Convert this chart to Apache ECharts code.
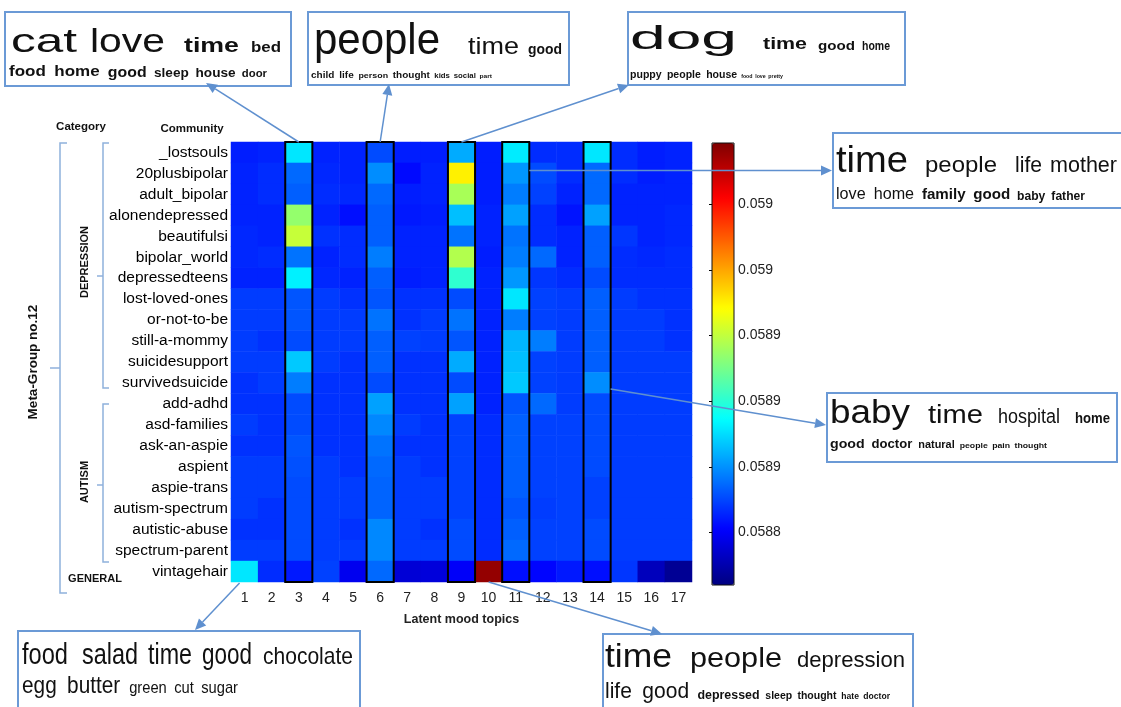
<!DOCTYPE html>
<html><head><meta charset="utf-8">
<script src="https://cdn.jsdelivr.net/npm/echarts@6/dist/echarts.min.js"></script>
<style>html,body{margin:0;padding:0;background:#fff}#c{width:1121px;height:707px}</style>
</head><body><div id="c"></div>
<script>
// ---------------- DATA ----------------
const communities = ['_lostsouls','20plusbipolar','adult_bipolar','alonendepressed','beautifulsi','bipolar_world','depressedteens','lost-loved-ones','or-not-to-be','still-a-mommy','suicidesupport','survivedsuicide','add-adhd','asd-families','ask-an-aspie','aspient','aspie-trans','autism-spectrum','autistic-abuse','spectrum-parent','vintagehair'];
const topics = ['1','2','3','4','5','6','7','8','9','10','11','12','13','14','15','16','17'];
const highlightedTopics = ['3','6','9','11','14'];
const colorMin = 0.058816, colorMax = 0.059018;
const colorbarTicks = [0.05884, 0.05887, 0.0589, 0.05893, 0.05896, 0.05899];
// rows = communities (top to bottom), columns = topics 1..17
const moodScores = [
 [0.058847,0.058848,0.058887,0.058848,0.058848,0.058856,0.058847,0.058847,0.058875,0.058847,0.058888,0.058850,0.058850,0.058887,0.058850,0.058847,0.058848],
 [0.058848,0.058850,0.058862,0.058849,0.058848,0.058869,0.058843,0.058848,0.058945,0.058847,0.058871,0.058856,0.058850,0.058862,0.058850,0.058847,0.058848],
 [0.058848,0.058850,0.058860,0.058850,0.058849,0.058862,0.058847,0.058848,0.058925,0.058847,0.058866,0.058854,0.058848,0.058862,0.058848,0.058848,0.058848],
 [0.058848,0.058848,0.058921,0.058848,0.058844,0.058860,0.058846,0.058847,0.058879,0.058848,0.058873,0.058850,0.058845,0.058873,0.058848,0.058848,0.058849],
 [0.058849,0.058848,0.058931,0.058851,0.058850,0.058860,0.058848,0.058848,0.058864,0.058848,0.058864,0.058850,0.058848,0.058860,0.058852,0.058848,0.058849],
 [0.058849,0.058850,0.058864,0.058848,0.058850,0.058866,0.058848,0.058848,0.058927,0.058847,0.058866,0.058862,0.058848,0.058860,0.058850,0.058849,0.058850],
 [0.058848,0.058848,0.058889,0.058849,0.058848,0.058860,0.058847,0.058848,0.058901,0.058848,0.058871,0.058852,0.058850,0.058856,0.058850,0.058850,0.058850],
 [0.058853,0.058853,0.058858,0.058853,0.058851,0.058858,0.058851,0.058851,0.058856,0.058848,0.058887,0.058854,0.058853,0.058860,0.058853,0.058851,0.058851],
 [0.058853,0.058853,0.058858,0.058853,0.058853,0.058864,0.058851,0.058853,0.058864,0.058848,0.058866,0.058854,0.058853,0.058860,0.058853,0.058853,0.058851],
 [0.058853,0.058851,0.058856,0.058853,0.058853,0.058860,0.058854,0.058853,0.058858,0.058848,0.058877,0.058866,0.058853,0.058860,0.058853,0.058853,0.058851],
 [0.058853,0.058853,0.058881,0.058853,0.058851,0.058860,0.058851,0.058851,0.058875,0.058848,0.058879,0.058854,0.058853,0.058860,0.058853,0.058853,0.058853],
 [0.058851,0.058853,0.058866,0.058851,0.058851,0.058856,0.058851,0.058851,0.058856,0.058848,0.058881,0.058854,0.058853,0.058869,0.058853,0.058853,0.058853],
 [0.058851,0.058851,0.058856,0.058851,0.058851,0.058873,0.058851,0.058851,0.058873,0.058848,0.058858,0.058862,0.058853,0.058856,0.058853,0.058853,0.058853],
 [0.058853,0.058851,0.058856,0.058851,0.058851,0.058868,0.058853,0.058851,0.058854,0.058850,0.058860,0.058854,0.058854,0.058856,0.058853,0.058853,0.058853],
 [0.058851,0.058851,0.058858,0.058851,0.058851,0.058864,0.058851,0.058851,0.058854,0.058850,0.058860,0.058854,0.058854,0.058856,0.058853,0.058853,0.058853],
 [0.058853,0.058853,0.058857,0.058853,0.058851,0.058862,0.058853,0.058851,0.058854,0.058850,0.058860,0.058854,0.058854,0.058856,0.058853,0.058853,0.058853],
 [0.058853,0.058853,0.058856,0.058853,0.058853,0.058861,0.058853,0.058853,0.058854,0.058850,0.058860,0.058854,0.058854,0.058854,0.058853,0.058853,0.058853],
 [0.058853,0.058851,0.058856,0.058853,0.058853,0.058861,0.058853,0.058853,0.058854,0.058850,0.058858,0.058853,0.058854,0.058854,0.058853,0.058853,0.058853],
 [0.058851,0.058851,0.058856,0.058853,0.058851,0.058868,0.058853,0.058851,0.058856,0.058850,0.058860,0.058854,0.058854,0.058856,0.058853,0.058853,0.058853],
 [0.058853,0.058853,0.058856,0.058853,0.058853,0.058868,0.058853,0.058853,0.058856,0.058850,0.058862,0.058854,0.058854,0.058856,0.058853,0.058853,0.058853],
 [0.058887,0.058850,0.058846,0.058854,0.058838,0.058862,0.058833,0.058834,0.058840,0.059014,0.058844,0.058842,0.058846,0.058844,0.058852,0.058828,0.058820]
];
// top words of selected latent topics (word clouds)
const topic3Words  = [['cat','love','time','bed'],['food','home','good','sleep','house','door']];
const topic6Words  = [['people','time','good'],['child','life','person','thought','kids','social','part']];
const topic9Words  = [['dog','time','good','home'],['puppy','people','house','food','love','pretty']];
const topic11Words = [['time','people','life','mother'],['love','home','family','good','baby','father']];
const topic14Words = [['baby','time','hospital','home'],['good','doctor','natural','people','pain','thought']];
const topic1Words  = [['food','salad','time','good','chocolate'],['egg','butter','green','cut','sugar']];
const topic10Words = [['time','people','depression'],['life','good','depressed','sleep','thought','hate','doctor']];

// ---------------- CHART ----------------
const FONT = '"Liberation Sans", Arial, Helvetica, sans-serif';
const jet = ['#000080','#0000ff','#0080ff','#00ffff','#80ff80','#ffff00','#ff8000','#ff0000','#800000'];
const heatData = [];
moodScores.forEach((row, r) => row.forEach((v, c) => heatData.push([c, r, v])));

const chart = echarts.init(document.getElementById('c'), null, {renderer: 'canvas'});
chart.setOption({
  animation: false,
  backgroundColor: '#fff',
  grid: [
    {left: 231, top: 142, width: 461, height: 440},
    {left: 712, top: 143, width: 22, height: 442}
  ],
  xAxis: [
    {type: 'category', data: topics, gridIndex: 0, position: 'bottom',
     axisLine: {show: false}, splitLine: {show: false},
     axisTick: {show: true, inside: true, length: 3, alignWithLabel: true, lineStyle: {color: '#000'}},
     axisLabel: {fontSize: 14, fontFamily: FONT, color: '#222', margin: 9},
     name: 'Latent mood topics', nameLocation: 'middle', nameGap: 31,
     nameTextStyle: {fontSize: 12.5, fontWeight: 'bold', fontFamily: FONT, color: '#222'}},
    {type: 'value', gridIndex: 1, show: false, min: 0, max: 1}
  ],
  yAxis: [
    {type: 'category', data: communities, gridIndex: 0, inverse: true,
     axisLine: {show: false}, axisTick: {show: false}, splitLine: {show: false},
     axisLabel: {fontSize: 15.5, fontFamily: FONT, color: '#000', margin: 3}},
    {type: 'value', gridIndex: 1, min: colorMin, max: colorMax, position: 'right',
     axisLine: {show: false}, splitLine: {show: false},
     axisTick: {show: true, inside: true, length: 3, lineStyle: {color: '#000'}, customValues: colorbarTicks},
     axisLabel: {fontSize: 14, fontFamily: FONT, color: '#222', margin: 4, customValues: colorbarTicks,
       formatter: v => String(Number(v.toPrecision(3)))}},
    {type: 'value', gridIndex: 1, min: colorMin, max: colorMax, position: 'left',
     axisLine: {show: false}, splitLine: {show: false}, axisLabel: {show: false},
     axisTick: {show: true, inside: true, length: 3, lineStyle: {color: '#000'}, customValues: colorbarTicks}}
  ],
  visualMap: {
    type: 'continuous', min: colorMin, max: colorMax, seriesIndex: 0, calculable: false,
    orient: 'vertical', left: 712, top: 143, itemWidth: 22, itemHeight: 442, padding: 0,
    inRange: {color: jet}, hoverLink: false
  },
  series: [
    {type: 'heatmap', xAxisIndex: 0, yAxisIndex: 0, data: heatData, silent: true,
     itemStyle: {borderWidth: 0}, emphasis: {disabled: true}, progressive: 0},
    {type: 'custom', xAxisIndex: 0, yAxisIndex: 0, silent: true, z: 5,
     data: highlightedTopics.map(t => [t, communities[0]]),
     encode: {x: 0, y: 1},
     renderItem: function (params, api) {
       const cs = params.coordSys;
       const c = api.coord([api.value(0), 0]);
       const w = api.size([1, 1])[0];
       return {type: 'rect', shape: {x: c[0] - w / 2, y: cs.y, width: w, height: cs.height},
               style: {fill: 'none', stroke: '#000', lineWidth: 2}};
     }}
  ]
});

// ---------------- ANNOTATIONS ----------------
const boxColor = '#6b9ad6', arrowColor = '#5f90cf', bracketColor = '#8fb1dc';
const g = [];
const mctx = document.createElement('canvas').getContext('2d');
function fontStr(size, bold) { return (bold ? 'bold ' : '') + size + 'px ' + FONT; }
function measure(t, size, bold) { mctx.font = fontStr(size, bold); return mctx.measureText(t).width; }
function label(text, x, y, size, opts) {
  opts = opts || {};
  g.push({type: 'text', x: x, y: y, rotation: opts.rot || 0, z: 20,
    style: {text: text, font: fontStr(size, opts.bold), fill: opts.color || '#111',
            align: opts.align || 'center', verticalAlign: 'middle',
            textAlign: opts.align || 'center', textVerticalAlign: 'middle'}});
}
function poly(points, color, w) {
  g.push({type: 'polyline', z: 20, shape: {points: points}, style: {stroke: color, lineWidth: w || 1.5, fill: 'none'}});
}
function arrow(p1, p2) {
  const dx = p2[0] - p1[0], dy = p2[1] - p1[1], L = Math.hypot(dx, dy);
  const ux = dx / L, uy = dy / L, hl = 11, hw = 5;
  const bx = p2[0] - ux * hl, by = p2[1] - uy * hl;
  g.push({type: 'line', z: 20, shape: {x1: p1[0], y1: p1[1], x2: bx, y2: by}, style: {stroke: arrowColor, lineWidth: 1.5}});
  g.push({type: 'polygon', z: 20, shape: {points: [[p2[0], p2[1]], [bx - uy * hw, by + ux * hw], [bx + uy * hw, by - ux * hw]]}, style: {fill: arrowColor}});
}
function word(t, x, y, size, bold, sx) {
  g.push({type: 'text', x: x, y: y - 0.31 * size, scaleX: sx, z: 21,
    style: {text: t, font: fontStr(size, bold), fill: '#111', align: 'left', verticalAlign: 'middle',
            textAlign: 'left', textVerticalAlign: 'middle'}});
}
function cloud(words, box, lines) {
  g.push({type: 'rect', z: 15, shape: {x: box[0], y: box[1], width: box[2], height: box[3]},
          style: {fill: '#fff', stroke: boxColor, lineWidth: 2}});
  lines.forEach((ln, li) => {
    const ws = words[li];
    if (ln.x) {            // each word fitted to its own span
      ws.forEach((wd, i) => {
        const nat = measure(wd, ln.size[i], ln.bold[i]);
        word(wd, ln.x[i][0], ln.y, ln.size[i], ln.bold[i], (ln.x[i][1] - ln.x[i][0]) / nat);
      });
    } else {               // flowing line fitted to [x0, x1]
      const nats = ws.map((wd, i) => measure(wd, ln.size[i], ln.bold[i]));
      const gaps = ws.map((wd, i) => i ? 0.5 * (ln.size[i] + ln.size[i - 1]) / 2 : 0);
      const total = nats.reduce((a, b) => a + b, 0) + gaps.reduce((a, b) => a + b, 0);
      const s = (ln.x1 - ln.x0) / total;
      let cx = ln.x0;
      ws.forEach((wd, i) => {
        cx += gaps[i] * s;
        word(wd, cx, ln.y, ln.size[i], ln.bold[i], s);
        cx += nats[i] * s;
      });
    }
  });
}

// headers
label('Category', 81, 127, 11.5, {bold: true});
label('Community', 192, 129, 11.5, {bold: true});
label('Meta-Group no.12', 33, 362, 13.5, {bold: true, rot: Math.PI / 2});
label('DEPRESSION', 85, 262, 11, {bold: true, rot: Math.PI / 2});
label('AUTISM', 85, 482, 11, {bold: true, rot: Math.PI / 2});
label('GENERAL', 95, 579, 11, {bold: true});
// brackets
poly([[67, 143], [60, 143], [60, 593], [67, 593]], bracketColor);
poly([[50, 368], [60, 368]], bracketColor);
poly([[109, 143], [103, 143], [103, 388], [109, 388]], bracketColor);
poly([[97, 276], [103, 276]], bracketColor);
poly([[109, 404], [103, 404], [103, 562], [109, 562]], bracketColor);
poly([[97, 485], [103, 485]], bracketColor);
// colorbar frame
g.push({type: 'rect', z: 20, shape: {x: 712, y: 143, width: 22, height: 442}, style: {fill: 'none', stroke: '#111', lineWidth: 1}});

// word clouds
cloud(topic3Words, [5, 12, 286, 74], [
  {y: 53, x: [[11, 77], [90, 165], [184, 239], [251, 281]], size: [34, 34, 21, 15], bold: [0, 0, 1, 1]},
  {y: 77, x0: 9, x1: 267, size: [15, 15, 14, 12, 12, 10], bold: [1, 1, 1, 1, 1, 1]}]);
cloud(topic6Words, [308, 12, 261, 73], [
  {y: 55, x: [[314, 440], [468, 519], [528, 562]], size: [44, 24, 15], bold: [0, 0, 1]},
  {y: 78, x0: 311, x1: 492, size: [9, 9, 8, 9, 7, 7, 6], bold: [1, 1, 1, 1, 1, 1, 1]}]);
cloud(topic9Words, [628, 12, 277, 73], [
  {y: 50, x: [[630, 737], [763, 807], [818, 855], [862, 890]], size: [34, 16, 12, 12], bold: [0, 1, 1, 1]},
  {y: 78, x0: 630, x1: 783, size: [10, 10, 10, 5, 5, 5], bold: [1, 1, 1, 1, 1, 1]}]);
cloud(topic11Words, [833, 133, 290, 75], [
  {y: 173, x: [[836, 908], [925, 997], [1015, 1042], [1050, 1117]], size: [36, 22, 22, 22], bold: [0, 0, 0, 0]},
  {y: 200, x0: 836, x1: 1085, size: [16, 16, 15, 15, 12, 12], bold: [0, 0, 1, 1, 1, 1]}]);
cloud(topic14Words, [827, 393, 290, 69], [
  {y: 424, x: [[830, 910], [928, 983], [998, 1060], [1075, 1110]], size: [34, 26, 20, 15], bold: [0, 0, 0, 1]},
  {y: 448, x0: 830, x1: 1047, size: [13, 12, 10, 8, 8, 8], bold: [1, 1, 1, 1, 1, 1]}]);
cloud(topic1Words, [18, 631, 342, 90], [
  {y: 665, x: [[22, 68], [82, 138], [148, 192], [202, 252], [263, 353]], size: [30, 30, 30, 30, 24], bold: [0, 0, 0, 0, 0]},
  {y: 694, x0: 22, x1: 238, size: [24, 24, 17, 17, 17], bold: [0, 0, 0, 0, 0]}]);
cloud(topic10Words, [603, 634, 310, 90], [
  {y: 668, x: [[605, 672], [690, 782], [797, 905]], size: [34, 28, 22], bold: [0, 0, 0]},
  {y: 699, x0: 605, x1: 890, size: [22, 22, 13, 11, 11, 9, 9], bold: [0, 0, 1, 1, 1, 1, 1]}]);

// arrows: start points from the heatmap's own coordinate system
function cell(topic, community) { return chart.convertToPixel({gridIndex: 0}, [topic, community]); }
const c0 = cell('1', communities[0]), c1 = cell('2', communities[1]);
const cw = c1[0] - c0[0], ch = c1[1] - c0[1];
const last = communities[communities.length - 1];
(function () {
  let p = cell('3', communities[0]); arrow([p[0], p[1] - ch / 2], [206, 83]);
  p = cell('6', communities[0]); arrow([p[0], p[1] - ch / 2], [389, 84]);
  p = cell('9', communities[0]); arrow([p[0], p[1] - ch / 2], [629, 85]);
  p = cell('11', '20plusbipolar'); arrow([p[0] + cw / 2, p[1] - 3], [832, p[1] - 3]);
  p = cell('14', 'survivedsuicide'); arrow([p[0] + cw / 2, p[1] + 6], [826, 425]);
  p = cell('1', last); arrow([p[0] - 5, p[1] + ch / 2 + 1], [195, 630]);
  p = cell('10', last); arrow([p[0], p[1] + ch / 2], [662, 634]);
})();

chart.setOption({graphic: {elements: g}});
</script>
</body></html>
